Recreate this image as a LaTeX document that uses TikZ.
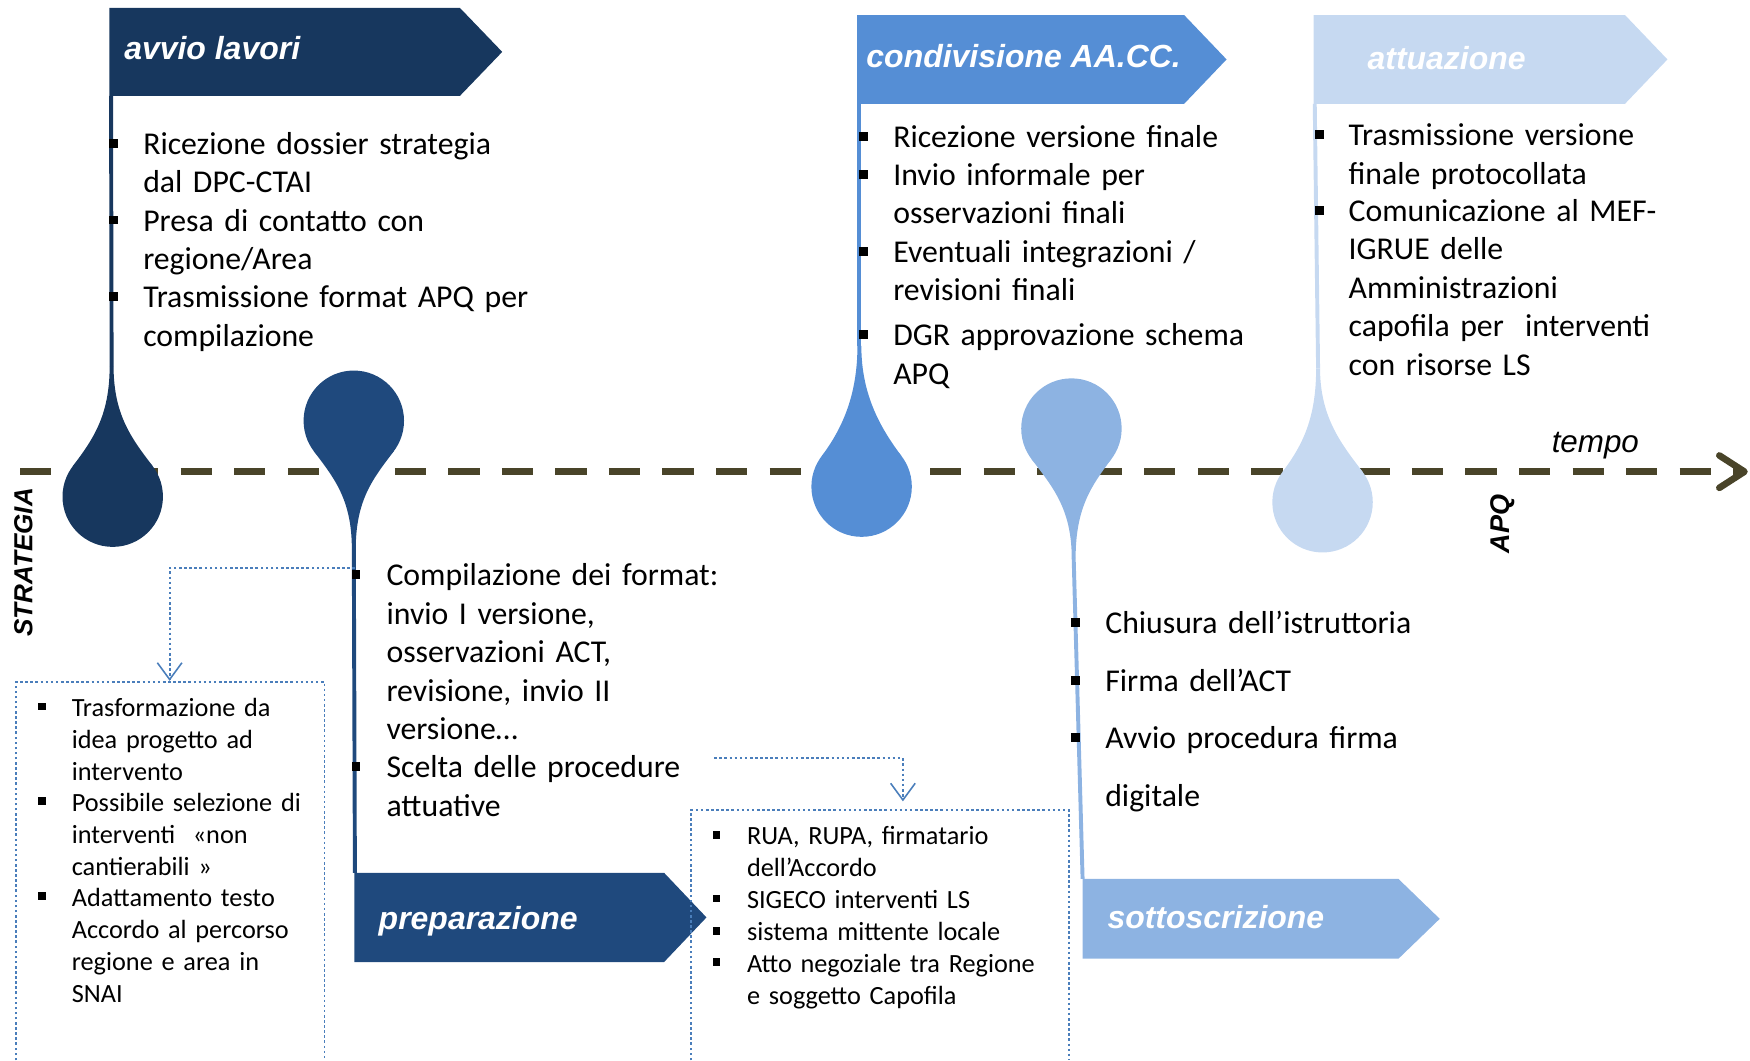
\documentclass[tikz,border=0pt]{standalone}
\usepackage{fontspec}
\setmainfont{Carlito}
\newfontfamily\arialf{Liberation Sans}
\usetikzlibrary{arrows.meta}
\definecolor{navyA}{HTML}{17375E}
\definecolor{navyB}{HTML}{1F497D}
\definecolor{blueC}{HTML}{558ED5}
\definecolor{blueD}{HTML}{8DB3E2}
\definecolor{blueE}{HTML}{C6D9F1}
\definecolor{olive}{HTML}{494429}
\definecolor{dotblue}{HTML}{4A7EBB}
% flag: x left, y top, x shoulder, x tip, y bottom, colour
\newcommand{\flag}[6]{\fill[#6] (#1,#2) -- (#3,#2) -- (#4,{(#2+#5)/2}) -- (#3,#5) -- (#1,#5) -- cycle;}
% drop: centre x, centre y, tip x, tip y, 1 = tail up / -1 = tail down, colour
\newcommand{\drop}[6]{%
  \fill[#6] (#1,#2) circle[radius=45];
  \fill[#6] ({#3-1.75},#4) .. controls ({#3-1.75},{#4+(#5)*45}) and ({#1-18},{#2-(#5)*51}) .. ({#1-36},{#2-(#5)*27})
    -- ({#1+36},{#2-(#5)*27}) .. controls ({#1+18},{#2-(#5)*51}) and ({#3+1.75},{#4+(#5)*45}) .. ({#3+1.75},#4) -- cycle;}
\begin{document}
\begin{tikzpicture}[x=0.02cm,y=-0.02cm,
  txt/.style={font=\fontsize{16.2}{19.6}\selectfont,text width=9cm,align=left,anchor=base west,inner sep=0pt},
  txtsmall/.style={txt,font=\fontsize{13.4}{16.3}\selectfont,text width=6cm},
  txtwide/.style={txt,font=\fontsize{16.2}{29.6}\selectfont},
  flagtitle/.style={font={\arialf\fontsize{16.3}{19}\selectfont\bfseries\itshape},text=white,anchor=base west,inner sep=0pt},
  axislabel/.style={font={\arialf\fontsize{13.3}{15}\selectfont\bfseries\itshape},inner sep=0pt,rotate=90},
  stem/.style={line width=2pt},
  timeline/.style={olive,line width=3.4pt,dash pattern=on 15.9pt off 11.4pt,-{Straight Barb[length=0.45cm,width=0.58cm,round]}},
  dotbox/.style={dotblue,line width=0.9pt,dash pattern=on 1.3pt off 1.3pt},
  dotarrow/.style={dotbox,-{Straight Barb[length=0.3cm,width=0.44cm,line width=0.8pt]}}]
\useasboundingbox (0,0) rectangle (1568,950);
%\draw[gray,very thin] (0,0) grid[step=100] (1568,950);
\coordinate (tl0) at (18,422.6);
\coordinate (tl1) at (1566,422.6);
\draw[timeline] (tl0) -- (tl1);
\node[font={\arialf\fontsize{16}{19}\selectfont\itshape},anchor=base west,inner sep=0pt] (tempo) at (1390,405) {tempo};
\node[axislabel] (strat) at (21,504) {STRATEGIA};
\node[axislabel,font={\arialf\fontsize{13.8}{16}\selectfont\bfseries\itshape}] (apq) at (1346,469.6) {APQ};

% stems
\coordinate (t1) at (100,328);   \coordinate (f1) at (99.5,86);
\coordinate (t2) at (317,492);   \coordinate (f2) at (318,782);
\coordinate (t3) at (770,310);   \coordinate (f3) at (770,93);
\coordinate (t4) at (962,500);   \coordinate (f4) at (970,787.5);
\coordinate (t5) at (1181,330);  \coordinate (f5) at (1178,93);
\draw[stem,navyA] (f1) -- (t1);
\draw[stem,navyB] (f2) -- (t2);
\draw[stem,blueC] (f3) -- (t3);
\draw[stem,blueD] (f4) -- (t4);
\draw[stem,blueE] (f5) -- (t5);

% drops
\drop{101}{445}{100}{328}{1}{navyA}
\drop{317}{377}{317}{492}{-1}{navyB}
\drop{772}{436}{770}{310}{1}{blueC}
\drop{960}{384}{962}{500}{-1}{blueD}
\drop{1185}{450}{1181}{330}{1}{blueE}

% flags
\flag{98}{7}{412}{450}{86}{navyA}
\flag{768}{13.5}{1061}{1099}{93}{blueC}
\flag{1177}{13.5}{1456}{1494}{93}{blueE}
\flag{317.5}{782}{595}{633}{862}{navyB}
\flag{970}{787.5}{1253}{1290}{859}{blueD}
\node[flagtitle] (avvio) at (111,53) {avvio lavori};
\node[flagtitle] (condiv) at (776,60.5) {condivisione AA.CC.};
\node[flagtitle] (attua) at (1225,62.7) {attuazione};
\node[flagtitle] (prep) at (339,833) {preparazione};
\node[flagtitle] (sottos) at (992,831.7) {sottoscrizione};

% lists
\node[txt] (a1) at (128,138.3) {Ricezione dossier strategia\\dal DPC-CTAI};
\node[txt] (a2) at (128,207.1) {Presa di contatto con\\regione/Area};
\node[txt] (a3) at (128,275.9) {Trasmissione format APQ per\\compilazione};
\node[txt] (b1) at (800,132) {Ricezione versione finale};
\node[txt] (b2) at (800,166) {Invio informale per\\osservazioni finali};
\node[txt] (b3) at (800,235) {Eventuali integrazioni /\\revisioni finali};
\node[txt] (b4) at (800,310) {DGR approvazione schema\\APQ};
\node[txt] (c1) at (1208,130.5) {Trasmissione versione\\finale protocollata};
\node[txt] (c2) at (1208,198.5) {Comunicazione al MEF-\\IGRUE delle\\Amministrazioni\\capofila per\ \ interventi\\con risorse LS};
\node[txt] (d1) at (346,525) {Compilazione dei format:\\invio I versione,\\osservazioni ACT,\\revisione, invio II\\versione…};
\node[txt] (d2) at (346,697) {Scelta delle procedure\\attuative};
\node[txt] (e1) at (990,568) {Chiusura dell’istruttoria};
\node[txt] (e2) at (990,620) {Firma dell’ACT};
\node[txtwide] (e3) at (990,671) {Avvio procedura firma\\digitale};
\node[txtsmall] (g1) at (669,757) {RUA, RUPA, firmatario\\dell’Accordo};
\node[txtsmall] (g2) at (669,814) {SIGECO interventi LS};
\node[txtsmall] (g3) at (669,843) {sistema mittente locale};
\node[txtsmall] (g4) at (669,871) {Atto negoziale tra Regione\\e soggetto Capofila};
\node[txtsmall] (h1) at (64,642) {Trasformazione da\\idea progetto ad\\intervento};
\node[txtsmall] (h2) at (64,727) {Possibile selezione di\\interventi\ \ «non\\cantierabili »};
\node[txtsmall] (h3) at (64,812) {Adattamento testo\\Accordo al percorso\\regione e area in\\SNAI};
\foreach \x/\y in {102/138.3,102/207.1,102/275.9,774/132,774/166,774/235,774/310,1182/130.5,1182/198.5,319/525,319/697,964/568,964/620,964/671}
  \fill ({\x-4},{\y-14}) rectangle ({\x+4},{\y-6});
\foreach \x/\y in {37.5/642,37.5/727,37.5/812,642/757,642/814,642/843,642/871}
  \fill ({\x-3.5},{\y-12.5}) rectangle ({\x+3.5},{\y-5.5});

% dotted boxes and links
\draw[dotbox] (14.5,950) |- (290.7,611) -- (290.7,950);
\draw[dotbox] (619,950) |- (958,726) -- (958,950);
\coordinate (k1) at (318,509);  \coordinate (k1e) at (152,610);
\coordinate (k2) at (640,679.5); \coordinate (k2e) at (809,718);
\draw[dotarrow] (k1) -| (k1e);
\draw[dotarrow] (k2) -| (k2e);
\end{tikzpicture}
\end{document}
